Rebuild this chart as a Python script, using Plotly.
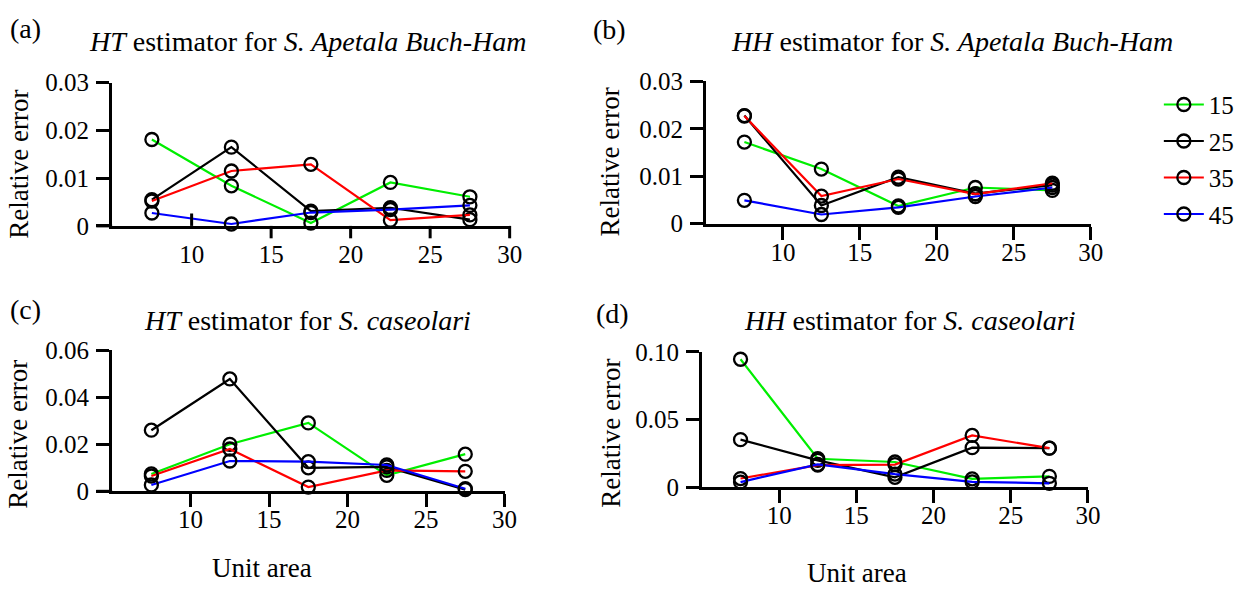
import plotly.graph_objects as go

# ---------------- data ----------------
unit_area = [7.5, 12.5, 17.5, 22.5, 27.5]
series_names = ["15", "25", "35", "45"]
series_colors = ["#00ee00", "#000000", "#ff0000", "#0000ff"]

# (a) HT estimator, S. Apetala Buch-Ham
a_15 = [0.0181, 0.0084, 0.0006, 0.0091, 0.0061]
a_25 = [0.0055, 0.0165, 0.0031, 0.0038, 0.0013]
a_35 = [0.0052, 0.0115, 0.0129, 0.0012, 0.0023]
a_45 = [0.0027, 0.0004, 0.0028, 0.0034, 0.0043]

# (b) HH estimator, S. Apetala Buch-Ham
b_15 = [0.0172, 0.0115, 0.0037, 0.0076, 0.0070]
b_25 = [0.0228, 0.0038, 0.0098, 0.0063, 0.0081]
b_35 = [0.0227, 0.0058, 0.0094, 0.0062, 0.0085]
b_45 = [0.0049, 0.0019, 0.0034, 0.0057, 0.0076]

# (c) HT estimator, S. caseolari
c_15 = [0.0074, 0.0200, 0.0291, 0.0068, 0.0158]
c_25 = [0.0260, 0.0478, 0.0100, 0.0104, 0.0007]
c_35 = [0.0065, 0.0180, 0.0018, 0.0089, 0.0085]
c_45 = [0.0027, 0.0129, 0.0126, 0.0112, 0.0011]

# (d) HH estimator, S. caseolari
d_15 = [0.0946, 0.0212, 0.0188, 0.0064, 0.0082]
d_25 = [0.0353, 0.0200, 0.0075, 0.0294, 0.0290]
d_35 = [0.0066, 0.0165, 0.0169, 0.0384, 0.0290]
d_45 = [0.0040, 0.0170, 0.0099, 0.0042, 0.0031]

x_ticks = [10, 15, 20, 25, 30]
y_ticks_small = [0, 0.01, 0.02, 0.03]
y_text_small = ["0", "0.01", "0.02", "0.03"]
y_ticks_c = [0, 0.02, 0.04, 0.06]
y_text_c = ["0", "0.02", "0.04", "0.06"]
y_ticks_d = [0, 0.05, 0.10]
y_text_d = ["0", "0.05", "0.10"]

panels = [
    dict(key="a", series=[a_15, a_25, a_35, a_45], yt=y_ticks_small, ytt=y_text_small, ymax=0.03,
         title="<i>HT</i> estimator for <i>S. Apetala Buch-Ham</i>"),
    dict(key="b", series=[b_15, b_25, b_35, b_45], yt=y_ticks_small, ytt=y_text_small, ymax=0.03,
         title="<i>HH</i> estimator for <i>S. Apetala Buch-Ham</i>"),
    dict(key="c", series=[c_15, c_25, c_35, c_45], yt=y_ticks_c, ytt=y_text_c, ymax=0.06,
         title="<i>HT</i> estimator for <i>S. caseolari</i>"),
    dict(key="d", series=[d_15, d_25, d_35, d_45], yt=y_ticks_d, ytt=y_text_d, ymax=0.10,
         title="<i>HH</i> estimator for <i>S. caseolari</i>"),
]

# ---------------- layout geometry (pixels) ----------------
W, H = 1252, 596
boxes = {
    "a": (113.3, 515.0, 73.0, 223.0),
    "b": (713.3, 1102.3, 71.7, 220.5),
    "c": (113.3, 509.8, 353.3, 501.0),
    "d": (709.3, 1099.4, 355.0, 497.0),
}
FONT = "Liberation Serif, Times New Roman, serif"
TICK_SIZE = 25
TEXT_SIZE = 27
TITLE_SIZE = 28
TICK_LEN = 13

fig = go.Figure()
layout = dict(
    width=W, height=H, autosize=False,
    margin=dict(l=0, r=0, t=0, b=0),
    paper_bgcolor="white", plot_bgcolor="white",
    font=dict(family=FONT, size=TICK_SIZE, color="black"),
    showlegend=True,
)
annotations = []
shapes = []

for i, p in enumerate(panels):
    k = p["key"]
    n = "" if i == 0 else str(i + 1)
    L, R, T, B = boxes[k]
    xd = [L / W, R / W]
    yd = [1 - B / H, 1 - T / H]
    xa = dict(domain=xd, range=[5, 30], tickvals=x_ticks, ticktext=[str(v) for v in x_ticks],
              showline=True, linewidth=3, linecolor="black", ticks="outside", ticklen=TICK_LEN,
              tickwidth=3, tickcolor="black", showgrid=False, zeroline=False,
              tickfont=dict(family=FONT, size=TICK_SIZE, color="black"),
              ticklabelstandoff=-9,
              anchor="y" + n, fixedrange=True)
    ya = dict(domain=yd, range=[0, p["ymax"]], tickvals=p["yt"], ticktext=p["ytt"],
              showline=True, linewidth=3, linecolor="black", ticks="outside", ticklen=TICK_LEN,
              tickwidth=3, tickcolor="black", showgrid=False, zeroline=False,
              tickfont=dict(family=FONT, size=TICK_SIZE, color="black"),
              ticklabelstandoff=2,
              anchor="x" + n, fixedrange=True)
    if k == "a":
        # panel (a): the 10-tick points upward, the others downward -> drawn as lines
        xa["ticks"] = ""
        xa["ticklabelstandoff"] = 4
        hpx = B - T
        for v in x_ticks:
            fx = (v - 5) / 25
            up = v == 10
            shapes.append(dict(type="line", xref="x domain", yref="y domain",
                               x0=fx, x1=fx, y0=0, y1=(TICK_LEN / hpx) if up else (-TICK_LEN / hpx),
                               line=dict(color="black", width=3)))
    if k in ("a", "c"):
        wpx = R - L
        shapes.append(dict(type="line", xref="x" + n + " domain", yref="y" + n + " domain",
                           x0=-16 / wpx, x1=0, y0=0, y1=0,
                           line=dict(color="black", width=3)))
    layout["xaxis" + n] = xa
    layout["yaxis" + n] = ya

    for j, (name, col, ys) in enumerate(zip(series_names, series_colors, p["series"])):
        fig.add_trace(go.Scatter(
            x=unit_area, y=ys, mode="lines+markers", name=name,
            legendgroup=name, showlegend=(i == 1),
            line=dict(color=col, width=2.2),
            marker=dict(symbol="circle-open", size=13, color="black", line=dict(width=2.3, color="black")),
            cliponaxis=False,
            xaxis="x" + n, yaxis="y" + n,
        ))

def ann(text, xpx, ypx, size=TEXT_SIZE, angle=0):
    annotations.append(dict(text=text, x=xpx / W, y=1 - ypx / H, xref="paper", yref="paper",
                            xanchor="center", yanchor="middle", showarrow=False, textangle=angle,
                            font=dict(family=FONT, size=size, color="black")))

ann(panels[0]["title"], 311, 30, TITLE_SIZE)
ann(panels[1]["title"], 962, 30, TITLE_SIZE)
ann(panels[2]["title"], 311, 322, TITLE_SIZE)
ann(panels[3]["title"], 920, 322, TITLE_SIZE)
ann("(a)", 26, 16, TITLE_SIZE)
ann("(b)", 616, 17, TITLE_SIZE)
ann("(c)", 26, 311, TITLE_SIZE)
ann("(d)", 619, 315, TITLE_SIZE)
ann("Relative error", 19, 158, angle=-90)
ann("Relative error", 616, 156, angle=-90)
ann("Relative error", 18, 441, angle=-90)
ann("Relative error", 617, 440, angle=-90)
ann("Unit area", 265, 581)
ann("Unit area", 866, 587)

layout["annotations"] = annotations
layout["shapes"] = shapes
layout["legend"] = dict(x=1171 / W, y=1 - 72 / H, xanchor="left", yanchor="top",
                        font=dict(family=FONT, size=TICK_SIZE, color="black"),
                        bgcolor="rgba(0,0,0,0)", tracegroupgap=1, itemwidth=40,
                        traceorder="grouped")
fig.update_layout(**layout)
fig.write_html("out.html")
